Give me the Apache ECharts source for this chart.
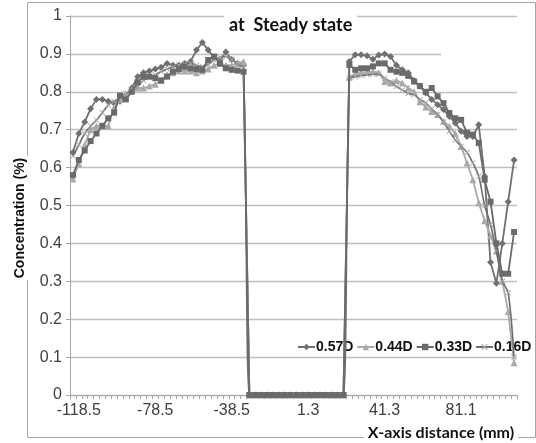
<!DOCTYPE html>
<html>
<head>
<meta charset="utf-8">
<script src="https://cdn.jsdelivr.net/npm/echarts@6/dist/echarts.min.js"></script>
<style>html,body{margin:0;padding:0;background:#fff}#c{width:536px;height:443px}</style>
</head>
<body>
<div id="c"></div>
<script>
var tickLabels = ['-118.5', '-78.5', '-38.5', '1.3', '41.3', '81.1'];
var seriesNames = ['0.57D', '0.44D', '0.33D', '0.16D'];

var s057 = [0.64,0.69,0.72,0.755,0.78,0.78,0.775,0.77,0.775,0.79,0.81,0.84,0.85,0.855,0.86,0.865,0.875,0.87,0.87,0.875,0.88,0.91,0.93,0.91,0.89,0.885,0.905,0.885,0.875,0.87,
  0,0,0,0,0,0,0,0,0,0,0,0,0,0,0,0,0,
  0.88,0.898,0.898,0.895,0.886,0.897,0.90,0.893,0.87,0.858,0.85,0.83,0.815,0.797,0.78,0.766,0.753,0.735,0.718,0.696,0.682,0.682,0.713,0.577,0.35,0.295,0.40,0.51,0.62];
var s044 = [0.57,0.61,0.66,0.70,0.71,0.71,0.71,0.76,0.78,0.795,0.805,0.81,0.81,0.815,0.82,0.83,0.845,0.85,0.855,0.855,0.855,0.85,0.855,0.86,0.87,0.875,0.87,0.87,0.875,0.88,
  0,0,0,0,0,0,0,0,0,0,0,0,0,0,0,0,0,
  0.84,0.847,0.85,0.851,0.853,0.851,0.827,0.823,0.83,0.823,0.81,0.80,0.774,0.76,0.748,0.74,0.722,0.709,0.69,0.656,0.612,0.568,0.507,0.46,0.42,0.38,0.30,0.22,0.085];
var s033 = [0.58,0.62,0.645,0.67,0.69,0.71,0.73,0.745,0.79,0.78,0.80,0.825,0.84,0.84,0.836,0.83,0.84,0.853,0.86,0.866,0.862,0.86,0.858,0.884,0.893,0.875,0.862,0.858,0.856,0.853,
  0,0,0,0,0,0,0,0,0,0,0,0,0,0,0,0,0,
  0.871,0.858,0.862,0.862,0.867,0.875,0.875,0.858,0.853,0.85,0.842,0.827,0.815,0.80,0.81,0.788,0.77,0.744,0.73,0.726,0.692,0.687,0.665,0.568,0.51,0.40,0.32,0.32,0.43];
var s016 = [0.63,0.66,0.69,0.71,0.725,0.745,0.765,0.775,0.783,0.795,0.805,0.815,0.83,0.838,0.845,0.853,0.86,0.865,0.87,0.873,0.875,0.87,0.867,0.872,0.884,0.89,0.893,0.885,0.872,0.862,
  0,0,0,0,0,0,0,0,0,0,0,0,0,0,0,0,0,
  0.836,0.84,0.843,0.845,0.847,0.847,0.836,0.826,0.814,0.805,0.796,0.792,0.78,0.77,0.755,0.74,0.72,0.696,0.673,0.656,0.64,0.612,0.577,0.50,0.45,0.38,0.30,0.27,0.10];

var nCat = s057.length;
var categories = [];
for (var i = 0; i < nCat; i++) {
  if (i >= 1 && (i - 1) % 13 === 0 && tickLabels[(i - 1) / 13] !== undefined) categories.push(tickLabels[(i - 1) / 13]);
  else categories.push((-118.5 + (i - 1) * 40 / 13).toFixed(2));
}
var labelSet = {};
tickLabels.forEach(function (t) { labelSet[t] = true; });

var crossPath = 'path://M0,1L1,0L5,4L9,0L10,1L6,5L10,9L9,10L5,6L1,10L0,9L4,5Z';

var chart = echarts.init(document.getElementById('c'), null, {renderer: 'canvas'});
chart.setOption({
  animation: false,
  backgroundColor: '#fff',
  title: {
    text: 'at  Steady state',
    left: 224, top: 13,
    padding: [3, 5],
    backgroundColor: '#fff',
    z: 10,
    textStyle: {fontFamily: 'Lato', fontWeight: 'bold', fontSize: 18, color: '#111'}
  },
  grid: {left: 70, right: 19, top: 16, bottom: 48, containLabel: false},
  legend: {
    data: seriesNames,
    left: 297, top: 340, width: 260,
    itemWidth: 17, itemHeight: 8, itemGap: 3,
    padding: 0,
    textStyle: {fontFamily: 'Liberation Sans', fontWeight: 'bold', fontSize: 14, color: '#111', padding: [0, 0, 0, -4]}
  },
  xAxis: {
    type: 'category',
    data: categories,
    boundaryGap: true,
    axisLine: {lineStyle: {color: '#a6a6a6', width: 1}},
    axisTick: {show: true, interval: 0, length: 4, lineStyle: {color: '#a6a6a6'}},
    axisLabel: {
      interval: function (idx, val) { return labelSet[val] === true; },
      margin: 8,
      fontFamily: 'Liberation Sans', fontSize: 16, color: '#404040'
    },
    splitLine: {show: false}
  },
  yAxis: {
    type: 'value',
    min: 0, max: 1, interval: 0.1,
    axisLine: {show: true, lineStyle: {color: '#a6a6a6'}},
    axisTick: {show: true, length: 4, lineStyle: {color: '#a6a6a6'}},
    axisLabel: {margin: 8, fontFamily: 'Liberation Sans', fontSize: 16, color: '#404040'},
    splitLine: {lineStyle: {color: '#bfbfbf', width: 1.3}}
  },
  graphic: [
    {type: 'rect', z: 1, shape: {x: 27.5, y: 2.5, width: 508, height: 435}, style: {fill: 'none', stroke: '#a6a6a6', lineWidth: 1}},
    {type: 'rect', z: 5, shape: {x: 441, y: 51, width: 80, height: 8}, style: {fill: '#fff'}},
    {type: 'text', z: 20, x: 20, y: 218, rotation: Math.PI / 2,
      style: {text: 'Concentration (%)', fontFamily: 'Liberation Sans', fontWeight: 'bold', fontSize: 14, fill: '#111',
        align: 'center', verticalAlign: 'middle', backgroundColor: '#fff', padding: [3, 2]}},
    {type: 'text', z: 20, x: 441, y: 433,
      style: {text: 'X-axis distance (mm)', fontFamily: 'Lato', fontWeight: 'bold', fontSize: 16, fill: '#111',
        align: 'center', verticalAlign: 'middle', backgroundColor: '#fff', padding: [1, 4]}}
  ],
  series: [
    {name: '0.57D', type: 'line', data: s057, z: 3, symbol: 'diamond', symbolSize: 7, showAllSymbol: true,
      lineStyle: {color: '#707070', width: 1.8}, itemStyle: {color: '#707070'}},
    {name: '0.44D', type: 'line', data: s044, z: 4, symbol: 'triangle', symbolSize: 7, showAllSymbol: true,
      lineStyle: {color: '#a9a9a9', width: 1.8}, itemStyle: {color: '#a9a9a9'}},
    {name: '0.33D', type: 'line', data: s033, z: 6, symbol: 'rect', symbolSize: 6, showAllSymbol: true,
      lineStyle: {color: '#6a6a6a', width: 1.8}, itemStyle: {color: '#6a6a6a'}},
    {name: '0.16D', type: 'line', data: s016, z: 5, symbol: crossPath, symbolSize: 6, showAllSymbol: true, smooth: 0.3,
      lineStyle: {color: '#6e6e6e', width: 1.6}, itemStyle: {color: '#a8a8a8'}}
  ]
});
</script>
</body>
</html>
